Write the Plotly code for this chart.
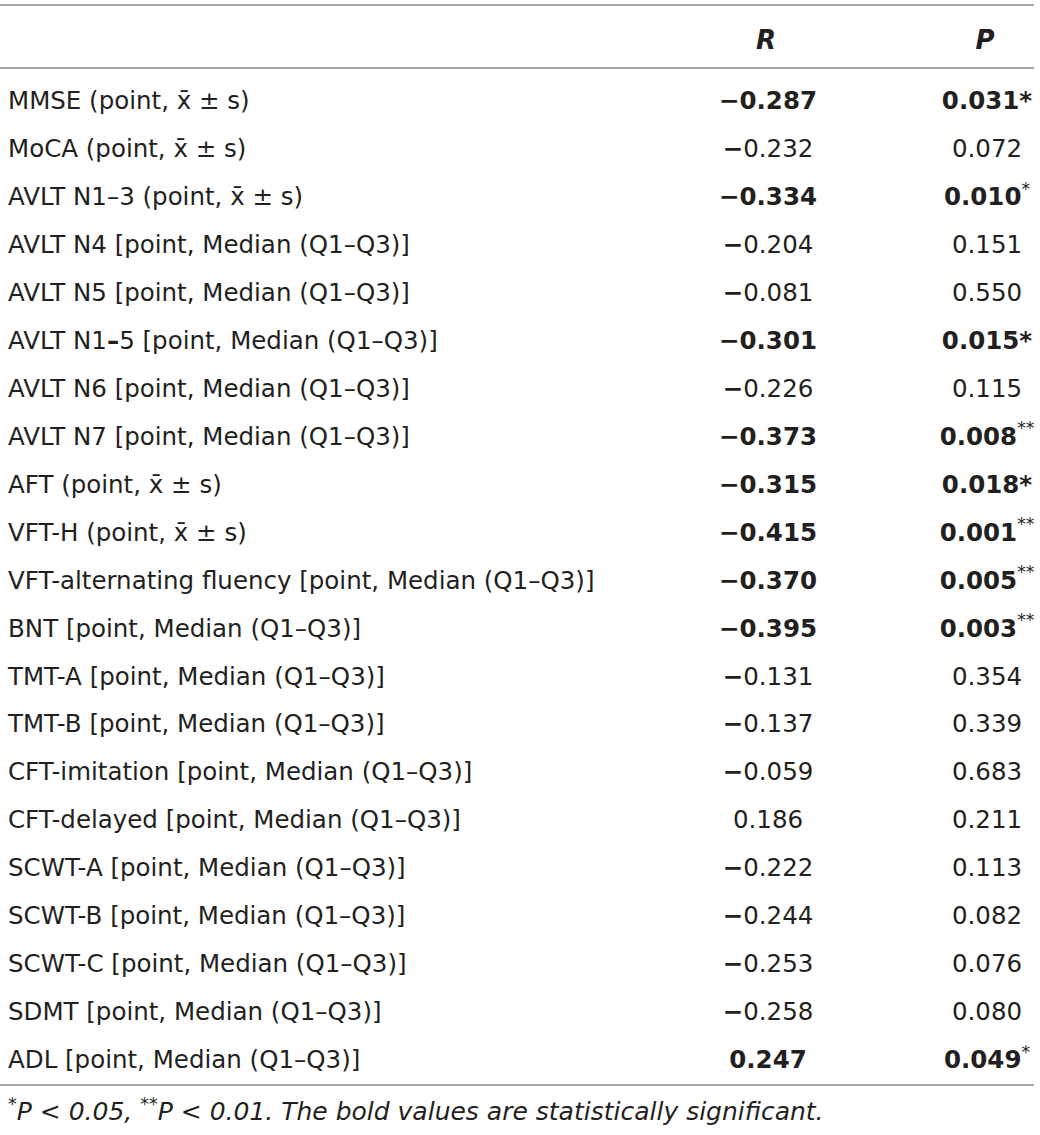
import plotly.graph_objects as go

# Table contents
labels = [
    "MMSE (point, x̄ ± s)",
    "MoCA (point, x̄ ± s)",
    "AVLT N1–3 (point, x̄ ± s)",
    "AVLT N4 [point, Median (Q1–Q3)]",
    "AVLT N5 [point, Median (Q1–Q3)]",
    "AVLT N1<b>–</b>5 [point, Median (Q1–Q3)]",
    "AVLT N6 [point, Median (Q1–Q3)]",
    "AVLT N7 [point, Median (Q1–Q3)]",
    "AFT (point, x̄ ± s)",
    "VFT-H (point, x̄ ± s)",
    "VFT-alternating fluency [point, Median (Q1–Q3)]",
    "BNT [point, Median (Q1–Q3)]",
    "TMT-A [point, Median (Q1–Q3)]",
    "TMT-B [point, Median (Q1–Q3)]",
    "CFT-imitation [point, Median (Q1–Q3)]",
    "CFT-delayed [point, Median (Q1–Q3)]",
    "SCWT-A [point, Median (Q1–Q3)]",
    "SCWT-B [point, Median (Q1–Q3)]",
    "SCWT-C [point, Median (Q1–Q3)]",
    "SDMT [point, Median (Q1–Q3)]",
    "ADL [point, Median (Q1–Q3)]",
]
r_vals = [-0.287, -0.232, -0.334, -0.204, -0.081, -0.301, -0.226, -0.373, -0.315,
          -0.415, -0.370, -0.395, -0.131, -0.137, -0.059, 0.186, -0.222, -0.244,
          -0.253, -0.258, 0.247]
p_vals = [0.031, 0.072, 0.010, 0.151, 0.550, 0.015, 0.115, 0.008, 0.018, 0.001,
          0.005, 0.003, 0.354, 0.339, 0.683, 0.211, 0.113, 0.082, 0.076, 0.080, 0.049]
# whether the significance stars are set as superscript in the source
star_sup = [False, False, True, False, False, False, False, True, False, True,
            True, True, False, False, False, False, False, False, False, False, True]
headers = ["R", "P"]
footnote = ("<sup>*</sup>P < 0.05, <sup>**</sup>P < 0.01. "
            "The bold values are statistically significant.")

TEXT = "#231f20"
LINE = "#8c8c8c"
FONT = "DejaVu Sans, sans-serif"
FS = 24.5

def fmt_r(v, p):
    s = "%.3f" % abs(v)
    if v < 0:
        s = "<b>−</b>" + s
    if p < 0.05:
        s = "<b>" + s + "</b>"
    return s

def fmt_p(p, sup):
    s = "%.3f" % p
    stars = "**" if p < 0.01 else ("*" if p < 0.05 else "")
    if not stars:
        return s
    if sup:
        return "<b>" + s + "</b><sup>" + stars + "</sup>"
    return "<b>" + s + stars + "</b>"

rows = list(range(len(labels)))
r_text = [fmt_r(v, p) for v, p in zip(r_vals, p_vals)]
p_text = [fmt_p(p, s) for p, s in zip(p_vals, star_sup)]

fig = go.Figure()

fig.add_trace(go.Scatter(
    x=[8] * len(rows), y=rows, text=labels, mode="text",
    textposition="middle right", textfont=dict(size=FS, color=TEXT, family=FONT),
    hoverinfo="skip"))
fig.add_trace(go.Scatter(
    x=[768] * len(rows), y=rows, text=r_text, mode="text",
    textposition="middle center", textfont=dict(size=FS, color=TEXT, family=FONT),
    hoverinfo="skip"))
fig.add_trace(go.Scatter(
    x=[987] * len(rows), y=rows, text=p_text, mode="text",
    textposition="middle center", textfont=dict(size=FS, color=TEXT, family=FONT),
    hoverinfo="skip"))

# header
fig.add_trace(go.Scatter(
    x=[766, 985], y=[-1.272, -1.272], text=["<b><i>%s</i></b>" % h for h in headers],
    mode="text", textposition="middle center",
    textfont=dict(size=26, color=TEXT, family=FONT), hoverinfo="skip"))

# footnote
fig.add_trace(go.Scatter(
    x=[8], y=[21.085], text=["<i>" + footnote + "</i>"], mode="text",
    textposition="middle right", textfont=dict(size=25, color=TEXT, family=FONT),
    hoverinfo="skip"))

# rules
for yy in [-2.044, -0.73, 20.48]:
    fig.add_shape(type="line", x0=0, x1=1034, y0=yy, y1=yy, xref="x", yref="y",
                  line=dict(color=LINE, width=1.5))

fig.update_layout(
    width=1040, height=1135,
    margin=dict(l=0, r=0, t=0, b=0),
    paper_bgcolor="white", plot_bgcolor="white",
    showlegend=False,
    xaxis=dict(range=[0, 1040], visible=False, fixedrange=True),
    yaxis=dict(range=[21.523, -2.148], visible=False, fixedrange=True),
)

fig.write_html("out.html", config={"displayModeBar": False},
               post_script="document.body.style.margin='0';")
